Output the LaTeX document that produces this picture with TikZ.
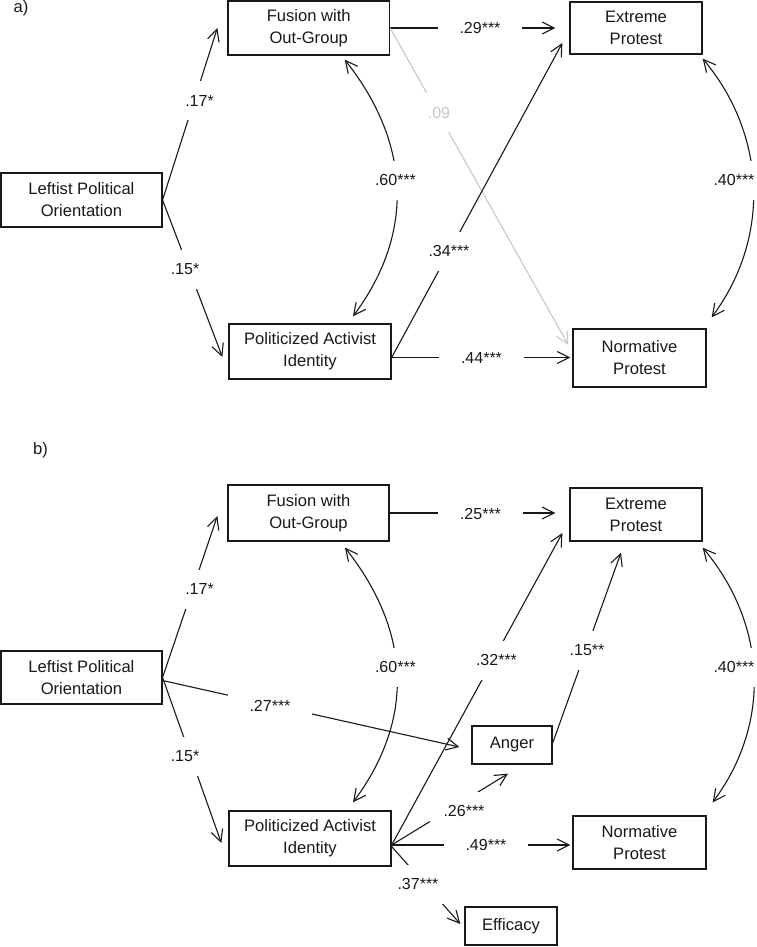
\documentclass[tikz,border=0pt]{standalone}
\usepackage{fontspec}
\setmainfont{Liberation Sans}
\usetikzlibrary{arrows.meta,calc}
\pgfdeclarelayer{lines}
\pgfdeclarelayer{labs}
\pgfsetlayers{lines,labs,main}
\definecolor{lightg}{RGB}{200,200,200}
\definecolor{ink}{RGB}{25,25,25}
\tikzset{
  box/.style={draw=ink, line width=1.3pt, align=center, inner sep=0pt,
    font=\fontsize{16.6}{22}\selectfont, text=ink},
  arr/.style={draw=ink, line width=1.1pt, -{Straight Barb[length=12pt,width=12pt]}},
  dbl/.style={draw=ink, line width=1.1pt,
    {Straight Barb[length=12pt,width=12pt]}-{Straight Barb[length=12pt,width=12pt]}},
  lab/.style={fill=white, inner xsep=22pt, inner ysep=13.75pt, text height=11.5pt,
    text depth=0pt, font=\fontsize{16}{19}\selectfont, text=ink},
  panel/.style={inner sep=0pt, font=\fontsize{16.6}{20}\selectfont, text=ink},
}
\begin{document}
\begin{tikzpicture}[x=1pt,y=-1pt]
\useasboundingbox (0,0) rectangle (756,947);

% ---------------- panel a ----------------
\node[panel] (pa) at (21,8) {a)};
\node[box, minimum width=161pt, minimum height=54pt] (lpoA) at (81.4,200) {Leftist Political\\Orientation};
\node[box, minimum width=161.5pt, minimum height=54pt] (fusA) at (308.75,28) {Fusion with\\Out-Group};
\node[box, minimum width=132pt, minimum height=52pt] (extA) at (636,28) {Extreme\\Protest};
\node[box, minimum width=162pt, minimum height=55pt] (polA) at (310,351.5) {Politicized Activist\\Identity};
\node[box, minimum width=133pt, minimum height=58pt] (norA) at (639.5,358) {Normative\\Protest};

\begin{pgfonlayer}{lines}
\draw[arr] (lpoA.east) -- ($(fusA.west)+(-10,0)$);
\draw[arr] (lpoA.east) -- ($(polA.west)+(-6,5.5)$);
\draw[arr] (fusA.east) -- ($(extA.west)+(-14,0)$);
\draw[arr, draw=lightg] (fusA.east) -- ($(norA.west)+(-4,-13)$);
\draw[arr] ($(polA.east)+(0,6)$) -- ($(extA.west)+(-7,15)$);
\draw[arr] ($(polA.east)+(0,6)$) -- ($(norA.west)+(-2,-0.5)$);
\draw[dbl] ($(fusA.south)+(36,4)$) .. controls +(67,85) and +(61,-82) .. ($(polA.north)+(43,-7)$);
\draw[dbl] ($(extA.south east)+(0,4)$) .. controls +(63,75) and +(60,-81) .. ($(norA.north east)+(5,-11)$);
\end{pgfonlayer}

\begin{pgfonlayer}{labs}
\node[lab] (a17) at (199.5,101) {.17*};
\node[lab] (a15) at (185,269) {.15*};
\node[lab] (a60) at (395.5,180) {.60***};
\node[lab] (a29) at (480,27.5) {.29***};
\node[lab, text=lightg] (a09) at (439,112.5) {.09};
\node[lab] (a40) at (734,180) {.40***};
\node[lab] (a34) at (449,251) {.34***};
\node[lab] (a44) at (481.5,357.5) {.44***};
\end{pgfonlayer}

% ---------------- panel b ----------------
\node[panel] (pb) at (40.5,450.5) {b)};
\node[box, minimum width=161pt, minimum height=53pt] (lpoB) at (81.4,677.5) {Leftist Political\\Orientation};
\node[box, minimum width=161pt, minimum height=56pt] (fusB) at (308.5,513) {Fusion with\\Out-Group};
\node[box, minimum width=132pt, minimum height=53pt] (extB) at (636,514.5) {Extreme\\Protest};
\node[box, minimum width=162pt, minimum height=55pt] (polB) at (310,838.5) {Politicized Activist\\Identity};
\node[box, minimum width=80pt, minimum height=38pt] (angB) at (512,745) {Anger};
\node[box, minimum width=133pt, minimum height=53pt] (norB) at (639.5,842.5) {Normative\\Protest};
\node[box, minimum width=92pt, minimum height=38pt] (effB) at (511,926) {Efficacy};

\begin{pgfonlayer}{lines}
\draw[arr] (lpoB.east) -- ($(fusB.west)+(-10,3)$);
\draw[arr] (lpoB.east) -- ($(polB.west)+(-7,4.5)$);
\draw[arr] ($(lpoB.east)+(0,3)$) -- ($(angB.west)+(-12,2)$);
\draw[arr] (fusB.east) -- ($(extB.west)+(-14,-1.5)$);
\draw[arr] ($(polB.east)+(0,6.5)$) -- ($(extB.west)+(-7,18.5)$);
\draw[arr] ($(angB.east)+(0,-2)$) -- ($(extB.south)+(-15,11)$);
\draw[arr] ($(polB.east)+(0,6.5)$) -- ($(angB.south)+(-4,9)$);
\draw[arr] ($(polB.east)+(0,6.5)$) -- ($(norB.west)+(-2,2.5)$);
\draw[arr] ($(polB.east)+(0,8)$) -- ($(effB.west)+(-4,-2)$);
\draw[dbl] ($(fusB.south)+(36.5,6)$) .. controls +(67,85) and +(61,-82) .. ($(polB.north)+(43,-8)$);
\draw[dbl] ($(extB.south east)+(0,6)$) .. controls +(63,75) and +(60,-81) .. ($(norB.north east)+(6,-13)$);
\end{pgfonlayer}

\begin{pgfonlayer}{labs}
\node[lab] (b17) at (199.5,589) {.17*};
\node[lab] (b15) at (185,756) {.15*};
\node[lab] (b27) at (270,706) {.27***};
\node[lab] (b60) at (395.5,667) {.60***};
\node[lab] (b25) at (480.5,514) {.25***};
\node[lab] (b32) at (496.5,660) {.32***};
\node[lab] (b15b) at (587,650) {.15**};
\node[lab] (b40) at (734,667) {.40***};
\node[lab, inner xsep=14pt] (b26) at (464,811) {.26***};
\node[lab] (b49) at (486,844.5) {.49***};
\node[lab] (b37) at (418,884) {.37***};
\end{pgfonlayer}
\end{tikzpicture}
\end{document}
